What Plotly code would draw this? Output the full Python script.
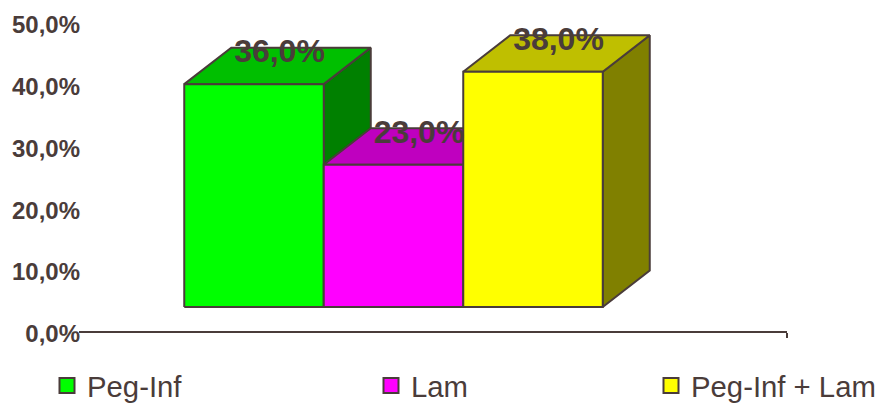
import plotly.graph_objects as go

categories = ["Peg-Inf", "Lam", "Peg-Inf + Lam"]
values = [36.0, 23.0, 38.0]
front_colors = ["#00ff00", "#ff00ff", "#ffff00"]
top_colors = ["#00bf00", "#bf00bf", "#bfbf00"]
side_colors = ["#008000", "#800080", "#808000"]
tick_values = [0, 10, 20, 30, 40, 50]

EDGE = "#4a3c3a"
FONT = "Liberation Sans, Arial, sans-serif"

# plot area in pixels, the bars sit on a floor in front of the axis
WIDTH, HEIGHT = 877, 403
LEFT, RIGHT, TOP, BOTTOM = 79, 787, 24, 336
AXIS_LINE = 332
TICK_0, TICK_50 = 333.8, 25
UNIT_X = 139.5
UNIT_Y = 6.19
TICK_UNIT = (TICK_0 - TICK_50) / 50
FIRST_CENTER = 254
FLOOR = 307
DEPTH_X = 47 / UNIT_X
DEPTH_Y = 36.5 / UNIT_Y
BAR_HALF = 0.5

x_range = [(LEFT - FIRST_CENTER) / UNIT_X, (RIGHT - FIRST_CENTER) / UNIT_X]
y_range = [(TICK_0 - BOTTOM) / TICK_UNIT, 50 + (TICK_50 - TOP) / TICK_UNIT]
y2_range = [(FLOOR - BOTTOM) / UNIT_Y, (FLOOR - TOP) / UNIT_Y]


def pct(v):
    return f"{v:.1f}%".replace(".", ",")


def face(xs, ys, color):
    return go.Scatter(
        x=xs,
        y=ys,
        yaxis="y2",
        mode="lines",
        fill="toself",
        fillcolor=color,
        line=dict(color=EDGE, width=2),
        showlegend=False,
        hoverinfo="skip",
    )


def bar_faces(i, value):
    x0, x1 = i - BAR_HALF, i + BAR_HALF
    side = face(
        [x1, x1 + DEPTH_X, x1 + DEPTH_X, x1, x1],
        [0, DEPTH_Y, value + DEPTH_Y, value, 0],
        side_colors[i],
    )
    top = face(
        [x0, x0 + DEPTH_X, x1 + DEPTH_X, x1, x0],
        [value, value + DEPTH_Y, value + DEPTH_Y, value, value],
        top_colors[i],
    )
    front = face([x0, x1, x1, x0, x0], [0, 0, value, value, 0], front_colors[i])
    return [side, top, front]


fig = go.Figure()

for i, value in enumerate(values):
    fig.add_traces(bar_faces(i, value))

# value labels float over the top face
fig.add_trace(
    go.Scatter(
        x=[i + 25.5 / UNIT_X for i in range(len(values))],
        y=[v + 30 / UNIT_Y for v in values],
        yaxis="y2",
        mode="text",
        text=[pct(v) for v in values],
        textposition="middle center",
        textfont=dict(family=FONT, size=32, color=EDGE, weight="bold"),
        showlegend=False,
        hoverinfo="skip",
    )
)

# one legend per entry, they are not evenly spaced
legend_names = ["legend", "legend2", "legend3"]
legend_lefts = [47, 371, 651]
for i, name in enumerate(categories):
    fig.add_trace(
        go.Scatter(
            x=[None],
            y=[None],
            mode="markers",
            name=name,
            legend=legend_names[i],
            marker=dict(symbol="square", size=15, color=front_colors[i], line=dict(color=EDGE, width=2)),
        )
    )

legend_style = dict(
    orientation="h",
    xanchor="left",
    yanchor="middle",
    y=(BOTTOM - 386) / (BOTTOM - TOP),
    bgcolor="rgba(0,0,0,0)",
    font=dict(family=FONT, size=29.3, color=EDGE),
)

fig.update_layout(
    width=WIDTH,
    height=HEIGHT,
    margin=dict(l=LEFT, r=WIDTH - RIGHT, t=TOP, b=HEIGHT - BOTTOM, autoexpand=False),
    paper_bgcolor="white",
    plot_bgcolor="white",
    font=dict(family=FONT, color=EDGE),
    xaxis=dict(
        range=x_range,
        anchor="free",
        position=(BOTTOM - AXIS_LINE) / (BOTTOM - TOP),
        showgrid=False,
        zeroline=False,
        showline=True,
        linecolor=EDGE,
        linewidth=1.5,
        tickmode="array",
        tickvals=[x_range[1]],
        ticks="outside",
        ticklen=5,
        tickwidth=1.5,
        tickcolor=EDGE,
        showticklabels=False,
    ),
    yaxis=dict(
        range=y_range,
        showgrid=False,
        zeroline=False,
        showline=False,
        tickmode="array",
        tickvals=tick_values,
        ticktext=[pct(v) for v in tick_values],
        ticks="",
        ticklabelstandoff=-2,
        tickfont=dict(family=FONT, size=24, color=EDGE, weight="bold"),
    ),
    yaxis2=dict(range=y2_range, overlaying="y", visible=False),
    legend=dict(x=(legend_lefts[0] - LEFT) / (RIGHT - LEFT), **legend_style),
    legend2=dict(x=(legend_lefts[1] - LEFT) / (RIGHT - LEFT), **legend_style),
    legend3=dict(x=(legend_lefts[2] - LEFT) / (RIGHT - LEFT), **legend_style),
)

# the default page margin would push the chart 8 px off
fig.write_html(
    "out.html",
    config=dict(displayModeBar=False),
    post_script="document.body.style.margin = '0';",
)
